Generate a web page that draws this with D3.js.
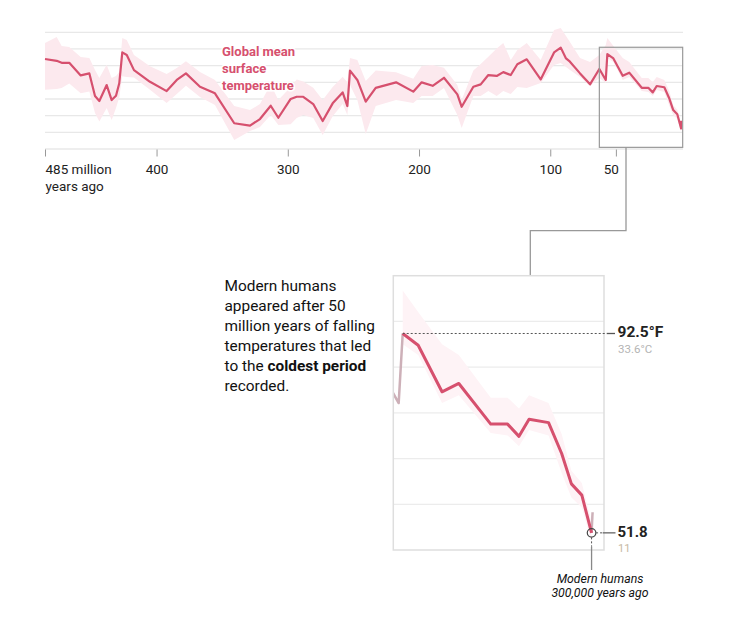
<!DOCTYPE html>
<html>
<head>
<meta charset="utf-8">
<script src="https://cdn.jsdelivr.net/npm/d3@7"></script>
<style>
  body { margin: 0; background: #fff; }
  svg text { font-family: Roboto, "Liberation Sans", sans-serif; }
</style>
</head>
<body>
<script>
// millions of years ago
const years = [485, 476.1, 472.3, 466.5, 457.8, 451.2, 446.9, 443.6, 438.0, 434.2,
  430.9, 428.4, 426.1, 422.7, 417.2, 405.0, 392.3, 384.6, 377.6, 366.9,
  355.5, 340.8, 328.8, 321.2, 313.0, 307.2, 297.8, 293.2, 288.2, 280.6,
  273.4, 265.8, 258.2, 254.6, 252.6, 247.0, 240.6, 233.0, 217.5, 204.4,
  198.0, 189.6, 181.0, 170.8, 167.5, 158.6, 153.0, 147.2, 140.8, 135.8,
  130.1, 125.1, 117.9, 107.3, 97.1, 92.0, 88.0, 85.0, 77.3, 69.7,
  62.6, 57.7, 56.5, 51.9, 44.8, 39.8, 30.3, 25.3, 21.9, 18.9,
  13.1, 9.2, 6.3, 3.2, 0.3, 0];

// global mean surface temperature, degrees F
const tempF = [89.8, 88.8, 87.7, 87.7, 80.8, 81.9, 69.5, 66.8, 75.5, 67.3,
  69.7, 76.5, 93.4, 92.0, 83.7, 77.3, 72.2, 78.3, 81.9, 74.6,
  71.0, 54.6, 53.3, 56.9, 64.2, 57.6, 67.9, 69.1, 69.1, 65.1,
  55.8, 65.5, 71.5, 64.0, 83.4, 78.3, 66.4, 74.0, 77.0, 71.9,
  77.0, 75.1, 79.5, 70.4, 63.6, 74.6, 75.9, 81.0, 80.5, 82.6,
  81.0, 86.9, 89.6, 78.6, 93.4, 96.0, 90.1, 88.3, 81.9, 75.9,
  84.3, 78.3, 92.5, 90.1, 80.6, 82.3, 74.0, 74.0, 71.5, 75.0,
  74.3, 68.0, 61.8, 59.5, 51.8, 56.0];

// uncertainty range
const tempHigh = [98.5, 101.8, 96.9, 96.3, 90.9, 90.3, 83.7, 79.4, 86.6, 79.4,
  80.5, 82.6, 101.3, 100.2, 92.0, 85.8, 81.5, 84.8, 88.5, 82.6,
  78.3, 64.0, 61.8, 65.1, 76.0, 67.3, 74.4, 78.5, 77.5, 74.0,
  67.3, 74.5, 80.0, 77.0, 90.3, 89.2, 77.7, 83.5, 82.5, 79.0,
  86.0, 86.5, 85.0, 75.5, 67.3, 83.5, 87.0, 91.0, 95.5, 98.5,
  89.2, 94.7, 98.5, 89.2, 105.6, 106.7, 102.4, 99.1, 90.3, 88.1,
  92.0, 97.4, 101.3, 96.9, 90.3, 88.1, 79.4, 79.4, 77.2, 79.9,
  78.3, 72.0, 64.5, 62.0, 54.0, 57.0];

const tempLow = [72.9, 73.3, 73.9, 76.3, 71.0, 72.0, 60.2, 55.6, 62.9, 56.4,
  62.9, 68.8, 80.3, 79.9, 79.6, 72.9, 65.7, 70.6, 75.1, 69.0,
  64.6, 45.4, 50.3, 52.5, 59.1, 53.6, 54.0, 57.5, 59.1, 57.5,
  48.1, 58.5, 65.1, 59.1, 75.5, 67.3, 48.7, 64.0, 67.3, 65.7,
  69.5, 69.5, 73.9, 59.1, 52.0, 69.5, 69.5, 72.2, 69.5, 72.2,
  70.6, 74.4, 73.9, 76.6, 86.5, 87.6, 85.4, 83.7, 79.9, 75.0,
  79.4, 76.6, 90.3, 88.1, 78.3, 79.9, 72.2, 71.7, 69.5, 72.8,
  71.7, 64.0, 59.0, 57.0, 50.0, 55.0];

const tickYears = [485, 400, 300, 200, 100, 50];
const tickLabels = ['485 million', '400', '300', '200', '100', '50'];

// the two marked points: start of the cooling and modern humans
const markYears = [56.5, 0.3];
const markF = ['92.5°F', '51.8'];
const markC = ['33.6°C', '11'];
const markTemp = [92.5, 51.8];

const noteLines = ['Modern humans', 'appeared after 50', 'million years of falling',
  'temperatures that led', 'to the |coldest period', 'recorded.'];

const rows = years.map((yr, i) => ({ year: yr, f: tempF[i], hi: tempHigh[i], lo: tempLow[i] }));

const PINK = '#d6506e';
const svg = d3.select('body').append('svg').attr('width', 741).attr('height', 637);

function gridLines(g, yScale, values, x0, x1, color){
  g.selectAll(null).data(values).join('line')
    .attr('x1', x0).attr('x2', x1)
    .attr('y1', d => yScale(d)).attr('y2', d => yScale(d))
    .attr('stroke', color).attr('stroke-width', 1.3);
}

/* overview chart */
const x = d3.scaleLinear().domain([485, 0]).range([45, 681.5]);
const y = d3.scaleLinear().domain([40.5, 104.4]).range([149, 32.3]);

const overview = svg.append('g').attr('class', 'overview');
gridLines(overview, y, d3.range(8).map(i => 40.5 + i * (104.4 - 40.5) / 7), 45, 683, '#e8e8e8');

overview.append('path').datum(rows)
  .attr('fill', '#fce9ee')
  .attr('d', d3.area().x(d => x(d.year)).y0(d => y(d.lo)).y1(d => y(d.hi)));

overview.append('path').datum(rows)
  .attr('fill', 'none').attr('stroke', PINK).attr('stroke-width', 2.2)
  .attr('stroke-linejoin', 'round')
  .attr('d', d3.line().x(d => x(d.year)).y(d => y(d.f)));

const label = overview.append('text')
  .attr('x', 222).attr('y', 56.3)
  .attr('fill', PINK).attr('font-size', 13).attr('font-weight', 700)
  .attr('stroke', '#fff').attr('stroke-width', 3).attr('paint-order', 'stroke');
['Global mean', 'surface', 'temperature'].forEach((t, i) => {
  label.append('tspan').attr('x', 222).attr('dy', i ? 16.7 : 0).text(t);
});

const axis = overview.append('g')
  .attr('transform', 'translate(0,149.5)')
  .call(d3.axisBottom(x).tickValues(tickYears).tickSize(7).tickPadding(8)
    .tickFormat((d, i) => tickLabels[i]));
axis.select('.domain').remove();
axis.selectAll('line').attr('stroke', '#999');
axis.selectAll('text').attr('fill', '#222').attr('font-size', 13.5);
axis.selectAll('.tick').filter(d => d === 485).select('text')
  .attr('text-anchor', 'start')
  .call(t => t.append('tspan').attr('x', 0).attr('dy', '1.25em').text('years ago'));
axis.selectAll('.tick').filter(d => d === 50).select('text').attr('dx', -5);

// locator box and elbow connector to the zoomed panel
overview.append('rect')
  .attr('x', x(62.6)).attr('y', y(96.2))
  .attr('width', x(-0.9) - x(62.6)).attr('height', y(41.4) - y(96.2))
  .attr('fill', 'none').attr('stroke', '#999').attr('stroke-width', 1.2);
svg.append('path')
  .attr('d', 'M626,147.3V230.7H530.3V275.7')
  .attr('fill', 'none').attr('stroke', '#999').attr('stroke-width', 1.3);

/* zoomed panel */
const xi = d3.scaleLinear().domain([59.3, -3.4]).range([393.3, 604]);
const yi = d3.scaleLinear().domain([48.3, 104.3]).range([550, 275.7]);

const inset = svg.append('g').attr('class', 'inset');
inset.append('clipPath').attr('id', 'inset-clip')
  .append('rect').attr('x', 393.3).attr('y', 275.7).attr('width', 604 - 393.3).attr('height', 550 - 275.7);

gridLines(inset, yi, d3.range(1, 6).map(i => 48.3 + i * (104.3 - 48.3) / 6), 393.3, 604, '#ececec');

const focus = rows.filter(d => d.year <= markYears[0] && d.year >= markYears[1]);
const before = rows.filter(d => d.year >= markYears[0] && d.year < 70);
const after = rows.filter(d => d.year <= markYears[1]);

const plot = inset.append('g').attr('clip-path', 'url(#inset-clip)');
plot.append('path').datum(focus)
  .attr('fill', '#fef3f6')
  .attr('d', d3.area().x(d => xi(d.year)).y0(d => yi(d.lo)).y1(d => yi(d.hi)));

const iline = d3.line().x(d => xi(d.year)).y(d => yi(d.f));
[before, after].forEach(part => {
  plot.append('path').datum(part)
    .attr('fill', 'none').attr('stroke', '#cdb0b8').attr('stroke-width', 2.5)
    .attr('stroke-linejoin', 'round').attr('d', iline);
});
plot.append('path').datum(focus)
  .attr('fill', 'none').attr('stroke', PINK).attr('stroke-width', 3)
  .attr('stroke-linejoin', 'round').attr('d', iline);

inset.append('rect')
  .attr('x', 393.3).attr('y', 275.7).attr('width', 604 - 393.3).attr('height', 550 - 275.7)
  .attr('fill', 'none').attr('stroke', '#dedede').attr('stroke-width', 1.5);

// peak annotation
const py = yi(markTemp[0]);
inset.append('line').attr('x1', xi(markYears[0])).attr('x2', 606.7).attr('y1', py).attr('y2', py)
  .attr('stroke', '#555').attr('stroke-dasharray', '2,2');
inset.append('line').attr('x1', 606.7).attr('x2', 615).attr('y1', py).attr('y2', py)
  .attr('stroke', '#555').attr('stroke-width', 1.3);
inset.append('text').attr('x', 617.5).attr('y', py + 4)
  .attr('font-size', 15.5).attr('font-weight', 700).attr('fill', '#222').text(markF[0]);
inset.append('text').attr('x', 618).attr('y', py + 20)
  .attr('font-size', 11.5).attr('fill', '#b4b4b4').text(markC[0]);

// modern humans marker
const hx = xi(markYears[1]), hy = yi(markTemp[1]);
inset.append('circle').attr('cx', hx).attr('cy', hy).attr('r', 4.3)
  .attr('fill', 'none').attr('stroke', '#444').attr('stroke-width', 1.2);
inset.append('line').attr('x1', hx + 4.5).attr('x2', 602.7).attr('y1', hy).attr('y2', hy)
  .attr('stroke', '#555').attr('stroke-dasharray', '2,2');
inset.append('line').attr('x1', 602.7).attr('x2', 615.5).attr('y1', hy).attr('y2', hy)
  .attr('stroke', '#666').attr('stroke-width', 1.3);
inset.append('line').attr('x1', hx).attr('x2', hx).attr('y1', hy + 4.5).attr('y2', 546.7)
  .attr('stroke', '#555').attr('stroke-dasharray', '2,2');
inset.append('line').attr('x1', hx).attr('x2', hx).attr('y1', 546.7).attr('y2', 570)
  .attr('stroke', '#888').attr('stroke-width', 1.3);
inset.append('text').attr('x', 617.5).attr('y', hy + 4.5)
  .attr('font-size', 15).attr('font-weight', 700).attr('fill', '#222').text(markF[1]);
inset.append('text').attr('x', 618).attr('y', hy + 19)
  .attr('font-size', 11).attr('fill', '#c7b9a3').text(markC[1]);

const humansText = inset.append('text').attr('text-anchor', 'middle')
  .attr('font-size', 12.3).attr('font-style', 'italic').attr('fill', '#111');
['Modern humans', '300,000 years ago'].forEach((t, i) => {
  humansText.append('tspan').attr('x', 600).attr('y', 583.3 + i * 13.4).text(t);
});

// side note
const note = svg.append('text').attr('font-size', 15.4).attr('fill', '#111');
noteLines.forEach((line, i) => {
  const [plain, bold] = line.split('|');
  const row = note.append('tspan').attr('x', 224.5).attr('y', 290.7 + i * 20);
  row.append('tspan').text(plain);
  if (bold) note.append('tspan').attr('font-weight', 700).text(bold);
});
</script>
</body>
</html>
